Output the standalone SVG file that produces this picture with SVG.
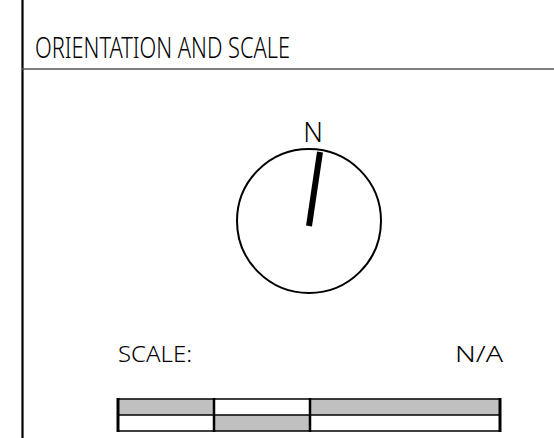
<svg xmlns="http://www.w3.org/2000/svg" width="554" height="438" viewBox="0 0 554 438">
<style>
.t{font-family:"Noto Sans","DejaVu Sans",sans-serif;font-weight:300;fill:#000}
.bar{stroke:#000;stroke-width:1.6}
.g{fill:#c0c0c0}
.w{fill:#fff}
</style>
<rect width="554" height="438" fill="#fff"/>
<g id="frame">
<line x1="22.5" y1="0" x2="22.5" y2="438" stroke="#000" stroke-width="2.2"/>
<line x1="22" y1="69" x2="554" y2="69" stroke="#555" stroke-width="1.5"/>
<text class="t" x="35" y="58" font-size="29" textLength="255" lengthAdjust="spacingAndGlyphs">ORIENTATION AND SCALE</text>
</g>
<g id="compass">
<text class="t" x="313" y="142" font-size="27" text-anchor="middle">N</text>
<circle cx="309" cy="221" r="72" fill="none" stroke="#000" stroke-width="2"/>
<line x1="320" y1="152" x2="309" y2="226" stroke="#000" stroke-width="6"/>
</g>
<g id="scale">
<text class="t" x="118" y="362" font-size="22" textLength="74" lengthAdjust="spacingAndGlyphs">SCALE:</text>
<text class="t" x="455" y="362" font-size="22" textLength="48" lengthAdjust="spacingAndGlyphs">N/A</text>
<rect class="g" x="118" y="399" width="96" height="16"/>
<rect class="w" x="214" y="399" width="96" height="16"/>
<rect class="g" x="310" y="399" width="190" height="16"/>
<rect class="w" x="118" y="415" width="96" height="16"/>
<rect class="g" x="214" y="415" width="96" height="16"/>
<rect class="w" x="310" y="415" width="190" height="16"/>
<line class="bar" x1="118" y1="399" x2="500" y2="399"/>
<line class="bar" x1="118" y1="415" x2="500" y2="415"/>
<line class="bar" x1="118" y1="431" x2="500" y2="431"/>
<line x1="118" y1="398" x2="118" y2="432" stroke="#000" stroke-width="3"/>
<line x1="214" y1="398" x2="214" y2="432" stroke="#000" stroke-width="2.5"/>
<line x1="310" y1="398" x2="310" y2="432" stroke="#000" stroke-width="2.5"/>
<line x1="500" y1="398" x2="500" y2="432" stroke="#000" stroke-width="3"/>
</g>
</svg>
